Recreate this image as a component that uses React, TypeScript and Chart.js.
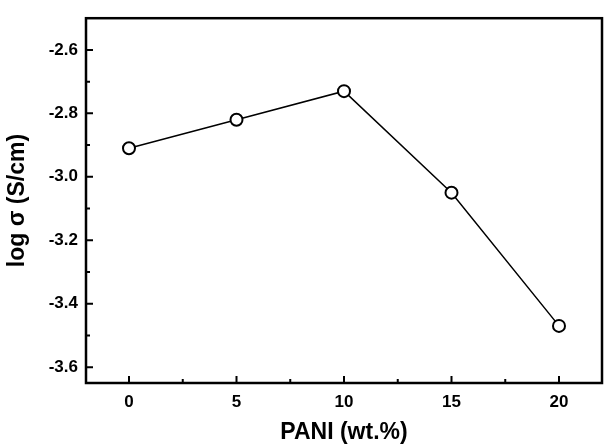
import React, { useEffect, useRef } from "react";
import { Chart, registerables } from "chart.js";

Chart.register(...registerables);

const pani = [0, 5, 10, 15, 20];
const logSigma = [-2.91, -2.82, -2.73, -3.05, -3.47];
const xTickValues = [0, 5, 10, 15, 20];
const yTickValues = [-3.6, -3.4, -3.2, -3.0, -2.8, -2.6];
const xTitle = "PANI (wt.%)";
const yTitle = "log σ (S/cm)";

const FONT = "'Liberation Sans', Arial, Helvetica, sans-serif";

const framePlugin = {
  id: "frame",
  afterDatasetsDraw(chart: any) {
    const { ctx, chartArea, scales } = chart;
    const { left, right, top, bottom } = chartArea;
    ctx.save();
    ctx.strokeStyle = "#000";
    ctx.lineWidth = 2;
    const xs = scales.x;
    const ys = scales.y;
    const xMajor = xTickValues;
    const xMinor: number[] = [];
    for (let i = 0; i < xMajor.length - 1; i++) xMinor.push((xMajor[i] + xMajor[i + 1]) / 2);
    const yMajor = yTickValues;
    const yMinor: number[] = [];
    for (let i = 0; i < yMajor.length - 1; i++) yMinor.push((yMajor[i] + yMajor[i + 1]) / 2);
    ctx.beginPath();
    xMajor.forEach((v) => {
      const px = xs.getPixelForValue(v);
      ctx.moveTo(px, bottom);
      ctx.lineTo(px, bottom - 7);
    });
    xMinor.forEach((v) => {
      const px = xs.getPixelForValue(v);
      ctx.moveTo(px, bottom);
      ctx.lineTo(px, bottom - 4);
    });
    yMajor.forEach((v) => {
      const py = ys.getPixelForValue(v);
      ctx.moveTo(left, py);
      ctx.lineTo(left + 7, py);
    });
    yMinor.forEach((v) => {
      const py = ys.getPixelForValue(v);
      ctx.moveTo(left, py);
      ctx.lineTo(left + 4, py);
    });
    ctx.stroke();
    ctx.lineWidth = 2.5;
    ctx.strokeRect(left, top, right - left, bottom - top);
    ctx.restore();
  },
};

export default function App() {
  const ref = useRef<HTMLCanvasElement | null>(null);
  useEffect(() => {
    if (!ref.current) return;
    const chart = new Chart(ref.current, {
      type: "line",
      data: {
        datasets: [
          {
            data: pani.map((x, i) => ({ x, y: logSigma[i] })),
            borderColor: "#000",
            borderWidth: 1.5,
            pointRadius: 6,
            pointHoverRadius: 6,
            pointBorderWidth: 2,
            pointBackgroundColor: "#fff",
            pointBorderColor: "#000",
            tension: 0,
          },
        ],
      },
      options: {
        responsive: false,
        animation: false,
        events: [],
        layout: { padding: { left: 0, top: 8, right: 3, bottom: 0 } },
        plugins: { legend: { display: false }, tooltip: { enabled: false } },
        scales: {
          x: {
            type: "linear",
            min: -2,
            max: 22,
            grid: { display: false, drawTicks: false },
            border: { display: false },
            afterBuildTicks: (s: any) => {
              s.ticks = xTickValues.map((v) => ({ value: v }));
            },
            afterFit: (s: any) => {
              s.height = 64;
            },
            ticks: {
              color: "#000",
              padding: 9,
              font: { family: FONT, size: 17, weight: "bold" },
              maxRotation: 0,
              callback: (v: any) => String(v),
            },
            title: {
              display: true,
              text: xTitle,
              color: "#000",
              font: { family: FONT, size: 23, weight: "bold" },
              padding: { top: 0, bottom: 1 },
            },
          },
          y: {
            type: "linear",
            min: -3.65,
            max: -2.5,
            grid: { display: false, drawTicks: false },
            border: { display: false },
            afterBuildTicks: (s: any) => {
              s.ticks = yTickValues.map((v) => ({ value: v }));
            },
            afterFit: (s: any) => {
              s.width = 86;
            },
            ticks: {
              color: "#000",
              padding: 8,
              font: { family: FONT, size: 17, weight: "bold" },
              callback: (v: any) => Number(v).toFixed(1),
            },
            title: {
              display: true,
              text: yTitle,
              color: "#000",
              font: { family: FONT, size: 23, weight: "bold" },
              padding: { top: 4, bottom: 0 },
            },
          },
        },
      },
      plugins: [framePlugin],
    } as any);
    return () => chart.destroy();
  }, []);
  return (
    <div style={{ position: "fixed", left: 0, top: 0, width: 610, height: 447, background: "#fff" }}>
      <canvas ref={ref} width={610} height={447} style={{ display: "block" }} />
    </div>
  );
}
